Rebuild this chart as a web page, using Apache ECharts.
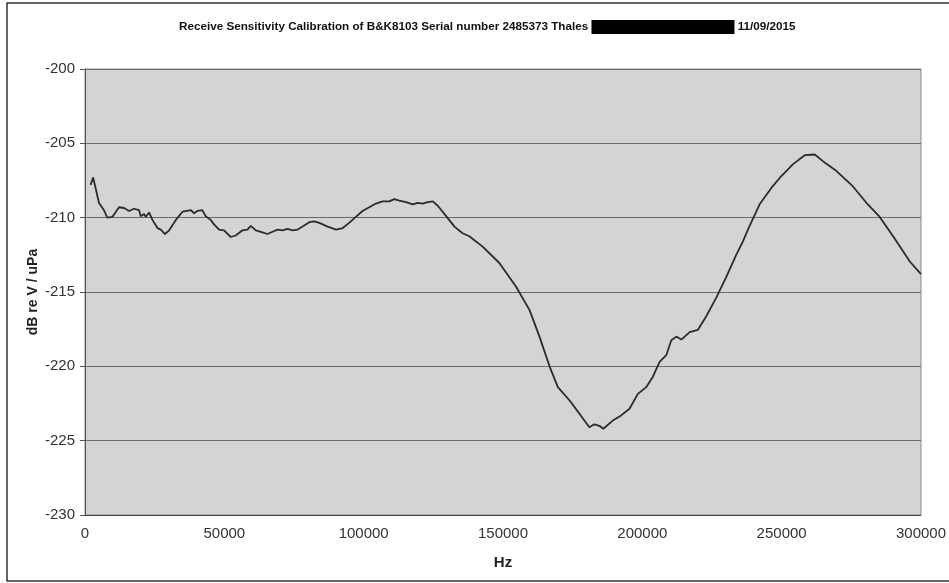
<!DOCTYPE html>
<html>
<head>
<meta charset="utf-8">
<script src="https://cdn.jsdelivr.net/npm/echarts@6/dist/echarts.min.js"></script>
<style>html,body{margin:0;padding:0;background:#fff;}#c{width:949px;height:583px;}</style>
</head>
<body>
<div id="c"></div>
<script>
var titleText = "Receive Sensitivity Calibration of B&K8103 Serial number 2485373 Thales";
var titleDate = "11/09/2015";
var xAxisName = "Hz";
var yAxisName = "dB re V / uPa";
var freqHz = [2000,2900,3800,5000,6800,8000,9800,12200,14000,15800,17600,19400,20000,21200,21800,23000,24200,26000,27200,28700,30200,32600,35000,38000,39200,40300,42100,43300,45100,46300,48100,49900,52300,54100,56500,58300,59500,61300,63100,65500,67300,69100,70900,72700,74500,76300,78100,80500,82300,84100,87100,90100,92500,94800,97200,99600,102000,104400,106800,109200,111000,112800,115200,117600,119400,121200,123000,124800,126600,129600,132600,135500,137900,142700,148700,154700,159500,163100,166700,169700,173900,177500,181000,182800,184600,186000,189400,192400,195400,198400,201400,203800,206200,208600,210400,212200,214000,217000,219900,222900,226500,230100,233700,236100,238500,242100,246300,249900,254100,258300,261900,264800,269600,275600,280400,285200,290000,296000,300000];
var sensDb = [-207.8,-207.3,-208.0,-209.0,-209.5,-210.0,-209.95,-209.3,-209.35,-209.55,-209.4,-209.5,-209.9,-209.75,-209.95,-209.65,-210.15,-210.7,-210.8,-211.1,-210.85,-210.15,-209.6,-209.5,-209.7,-209.55,-209.5,-209.9,-210.15,-210.45,-210.8,-210.85,-211.3,-211.2,-210.85,-210.8,-210.55,-210.85,-210.95,-211.1,-210.95,-210.8,-210.85,-210.75,-210.85,-210.8,-210.6,-210.3,-210.25,-210.35,-210.6,-210.8,-210.7,-210.35,-209.95,-209.55,-209.3,-209.05,-208.9,-208.9,-208.75,-208.85,-208.95,-209.1,-209.0,-209.05,-208.95,-208.9,-209.2,-209.9,-210.6,-211.05,-211.25,-211.95,-213.05,-214.65,-216.2,-218.0,-220.0,-221.4,-222.3,-223.2,-224.1,-223.9,-224.0,-224.2,-223.65,-223.3,-222.85,-221.85,-221.4,-220.7,-219.7,-219.25,-218.25,-218.0,-218.2,-217.7,-217.55,-216.65,-215.4,-214.0,-212.5,-211.6,-210.55,-209.1,-208.0,-207.2,-206.4,-205.8,-205.75,-206.2,-206.85,-207.9,-209.0,-209.95,-211.25,-212.95,-213.8];
var xMin = 0, xMax = 300000, xStep = 50000;
var yMin = -230, yMax = -200, yStep = 5;

var pts = freqHz.map(function(f, i){ return [f, sensDb[i]]; });
var chart = echarts.init(document.getElementById('c'), null, {renderer:'canvas'});
var FONT = '"Liberation Sans", Arial, sans-serif';
chart.setOption({
  backgroundColor: '#ffffff',
  animation: false,
  title: {
    text: '{t|' + titleText + ' }{box|}{t| ' + titleDate + '}',
    left: 174,
    top: 15,
    textStyle: {
      rich: {
        t: {fontFamily: FONT, fontWeight: 'bold', fontSize: 11.7, color: '#111'},
        box: {backgroundColor: '#000', width: 143, height: 14}
      }
    }
  },
  graphic: [{
    type: 'rect',
    shape: {x: 7, y: 3, width: 960, height: 578},
    style: {fill: 'none', stroke: '#333', lineWidth: 1.5},
    silent: true
  }],
  grid: {
    left: 85, right: 27, top: 69, bottom: 68,
    show: true, backgroundColor: '#d4d4d4', borderColor: '#8a8a8a', borderWidth: 1
  },
  xAxis: {
    type: 'value', min: xMin, max: xMax, interval: xStep,
    name: xAxisName, nameLocation: 'middle', nameGap: 40,
    nameTextStyle: {fontFamily: FONT, fontWeight: 'bold', fontSize: 15, color: '#222'},
    axisLine: {show: true, lineStyle: {color: '#444', width: 1}},
    axisTick: {show: false},
    axisLabel: {fontFamily: FONT, fontSize: 15, color: '#333', margin: 11, formatter: function(v){ return String(v); }},
    splitLine: {show: false}
  },
  yAxis: {
    type: 'value', min: yMin, max: yMax, interval: yStep,
    name: yAxisName, nameLocation: 'middle', nameGap: 45, nameRotate: 90,
    nameMoveOverlap: false,
    nameTextStyle: {fontFamily: FONT, fontWeight: 'bold', fontSize: 14, color: '#222'},
    axisLine: {show: true, lineStyle: {color: '#555', width: 1}},
    axisTick: {show: true, length: 5, lineStyle: {color: '#555'}},
    axisLabel: {fontFamily: FONT, fontSize: 15, color: '#333', margin: 10, formatter: function(v){ return String(v); }},
    splitLine: {show: true, lineStyle: {color: '#6a6a6a', width: 1}}
  },
  series: [{
    type: 'line',
    data: pts,
    showSymbol: false,
    smooth: false,
    lineStyle: {color: '#2b2b2b', width: 1.8}
  }]
});
</script>
</body>
</html>
